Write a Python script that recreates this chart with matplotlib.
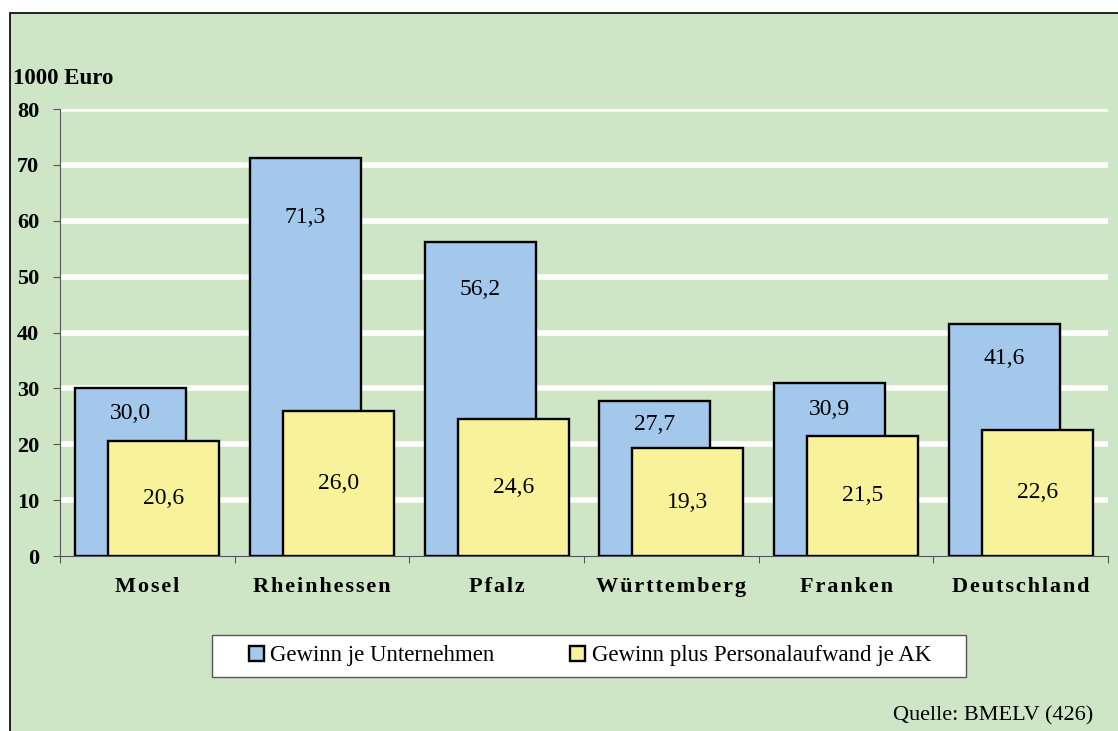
import matplotlib.pyplot as plt
import matplotlib.patches as mpatches
import numpy as np

# data
regions = ["Mosel", "Rheinhessen", "Pfalz", "Württemberg", "Franken", "Deutschland"]
gewinn_unternehmen = [30.0, 71.3, 56.2, 27.7, 30.9, 41.6]
gewinn_plus_ak = [20.6, 26.0, 24.6, 19.3, 21.5, 22.6]
y_ticks = [0, 10, 20, 30, 40, 50, 60, 70, 80]

bg_green = "#CFE6C6"
blue = "#A3C8EC"
yellow = "#F8F39B"

plt.rcParams['font.family'] = ['Liberation Serif', 'DejaVu Serif']

fig = plt.figure(figsize=(11.18, 7.31), dpi=100)
fig.patch.set_facecolor("white")

# chart area frame (green, black border, runs off right/bottom edge)
frame = mpatches.Rectangle((10 / 1118, -0.05), 1.1, 1 - 13 / 731 + 0.05,
                           transform=fig.transFigure, facecolor=bg_green,
                           edgecolor="black", linewidth=1.2, zorder=-5)
fig.patches.append(frame)

ax = fig.add_axes([60 / 1118, 1 - 556 / 731, (1108 - 60) / 1118, (556 - 109) / 731])
ax.patch.set_visible(False)

x = np.arange(len(regions))
w = 0.635
off = 0.095

# white horizontal gridlines
for t in y_ticks[1:]:
    ax.axhline(t, color="white", linewidth=4, zorder=1)

ax.bar(x - off, gewinn_unternehmen, width=w, color=blue, edgecolor="black",
       linewidth=1.7, zorder=2, label="Gewinn je Unternehmen")
ax.bar(x + off, gewinn_plus_ak, width=w, color=yellow, edgecolor="black",
       linewidth=1.7, zorder=3, label="Gewinn plus Personalaufwand je AK")

# value labels, German decimal comma
for xi, v in zip(x, gewinn_unternehmen):
    ax.text(xi - off, v * 0.85, f"{v:.1f}".replace(".", ","), ha="center",
            va="center", fontsize=17, zorder=4)
for xi, v in zip(x, gewinn_plus_ak):
    ax.text(xi + off, v * 0.5, f"{v:.1f}".replace(".", ","), ha="center",
            va="center", fontsize=17, zorder=4)

ax.set_xlim(-0.5, len(regions) - 0.5)
ax.set_ylim(0, 80)
ax.set_yticks(y_ticks)
ax.set_yticklabels([str(t) for t in y_ticks], fontsize=16, fontweight="bold")

# category ticks at the boundaries, labels centered (letter-spaced like the original)
spaced = ["\u200a".join(r) for r in regions]
ax.set_xticks(np.arange(len(regions) + 1) - 0.5)
ax.set_xticklabels([])
ax.set_xticks(x, minor=True)
ax.set_xticklabels(spaced, minor=True, fontsize=16, fontweight="bold")
ax.tick_params(axis="x", which="minor", length=0, pad=15)
ax.tick_params(axis="x", which="major", length=5, color="#555555", direction="out")
ax.tick_params(axis="y", length=5, color="#555555", pad=10)

for s in ["top", "right"]:
    ax.spines[s].set_visible(False)
ax.spines["left"].set_color("#555555")
ax.spines["bottom"].set_color("#555555")

fig.text(13 / 1118, 1 - 79 / 731, "1000 Euro", fontsize=16.5, fontweight="bold",
         va="center", ha="left")

# legend box drawn separately so its size matches the original
leg_box = mpatches.Rectangle((212 / 1118, 1 - 677 / 731), (966 - 212) / 1118, 42 / 731,
                             transform=fig.transFigure, facecolor="white",
                             edgecolor="#555555", linewidth=1.0, zorder=1)
fig.patches.append(leg_box)
leg = fig.legend(loc="center", bbox_to_anchor=(590 / 1118, 1 - 656 / 731),
                 ncol=2, frameon=False, fontsize=16.5,
                 handlelength=0.65, handleheight=0.65, handletextpad=0.3,
                 columnspacing=3.3, borderaxespad=0)
for t in leg.get_texts():
    t.set_fontfamily("Liberation Serif")
leg.set_zorder(2)

fig.text(1093 / 1118, 1 - 716 / 731, "Quelle: BMELV (426)", fontsize=16,
         ha="right", va="center")

fig.savefig("out.png", dpi=100)
